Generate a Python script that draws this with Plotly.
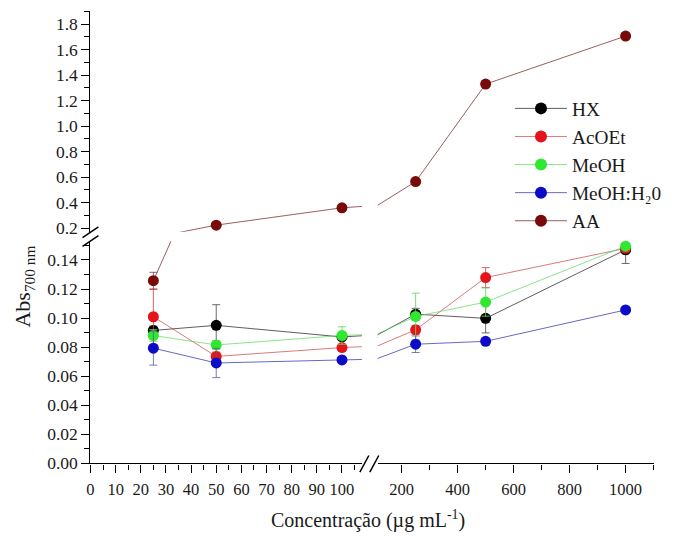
import plotly.graph_objects as go

# Concentrations (µg/mL) and absorbance at 700 nm for each extract
conc = [25, 50, 100, 250, 500, 1000]

hx = [0.0915, 0.0950, 0.0870, 0.1027, 0.0998, 0.1470]
hx_err = [0.003, 0.0142, 0.002, 0.004, 0.0100, 0.0094]

acoet = [0.1009, 0.0736, 0.0797, 0.0919, 0.1279, 0.1480]
acoet_err = [0.019, 0.003, 0.002, 0.003, 0.0068, 0.002]

meoh = [0.0880, 0.0815, 0.0880, 0.1011, 0.1110, 0.1495]
meoh_err = [0.004, 0.003, 0.0060, 0.0160, 0.0097, 0.002]

meoh_h2o = [0.0793, 0.0691, 0.0712, 0.0820, 0.0840, 0.1056]
meoh_h2o_err = [0.0117, 0.0101, 0.002, 0.0057, 0.002, 0.001]

aa = [0.1257, 0.223, 0.359, 0.565, 1.33, 1.707]
aa_err = [0.0058, 0.01, 0.01, 0.01, 0.02, 0.01]

series_names = ["HX", "AcOEt", "MeOH", "MeOH:H₂0", "AA"]
series_vals = [hx, acoet, meoh, meoh_h2o, aa]
series_errs = [hx_err, acoet_err, meoh_err, meoh_h2o_err, aa_err]
marker_colors = ["#000000", "#e3151b", "#2fe82f", "#0c0cc8", "#780a0a"]
line_colors = ["rgba(40,40,40,0.75)", "rgba(200,50,50,0.65)", "rgba(90,215,90,0.7)",
               "rgba(40,40,170,0.7)", "rgba(120,40,40,0.75)"]
err_colors = ["rgba(70,70,70,0.8)", "rgba(210,60,60,0.8)", "rgba(100,215,100,0.85)",
              "rgba(90,90,150,0.8)", "rgba(140,60,60,0.8)"]

# Broken axes: two x segments and two y segments
X_LEFT_MAX = 107.9
X_RIGHT = [114.7, 1100]
Y_LOW_MAX = 0.1527
Y_HIGH = [0.1715, 1.9]

W, H = 673, 547
def px(x):
    return x / W
def py(y):
    return 1 - y / H

FONT = "Liberation Serif"
TEXT = "#1a1a1a"

fig = go.Figure()

panels = [("x", "y"), ("x2", "y"), ("x", "y2"), ("x2", "y2")]

def home(xv, yv, xa, ya):
    in_x = (xv <= X_LEFT_MAX) if xa == "x" else (xv >= X_RIGHT[0])
    in_y = (yv <= Y_LOW_MAX) if ya == "y" else (yv >= Y_HIGH[0])
    return in_x and in_y

for i, name in enumerate(series_names):
    vals = series_vals[i]
    errs = series_errs[i]
    for xa, ya in panels:
        flags = [home(c, v, xa, ya) for c, v in zip(conc, vals)]
        sizes = [11 if f else 0 for f in flags]
        evals = [e if f else float("nan") for e, f in zip(errs, flags)]
        fig.add_trace(go.Scatter(
            x=conc, y=vals, xaxis=xa, yaxis=ya,
            mode="lines+markers",
            name=name, legendgroup=name, showlegend=False,
            line=dict(color=line_colors[i], width=1),
            marker=dict(size=sizes, color=marker_colors[i], opacity=1, line=dict(width=0)),
            error_y=dict(type="data", array=evals, visible=True,
                         color=err_colors[i], thickness=1, width=4),
            cliponaxis=False,
        ))
    # legend entry
    fig.add_trace(go.Scatter(
        x=[None], y=[None], mode="lines+markers",
        name=name, legendgroup=name, showlegend=True,
        line=dict(color=line_colors[i], width=1),
        marker=dict(size=12, color=marker_colors[i], opacity=1, line=dict(width=0)),
    ))

axis_common = dict(
    showline=True, linecolor="black", linewidth=1.4,
    ticks="outside", ticklen=8, tickwidth=1.3, tickcolor="black",
    showgrid=False, zeroline=False,
)
minor_common = dict(ticklen=5, tickwidth=1.2, tickcolor="black", ticks="outside", showgrid=False)
xfont = dict(family=FONT, size=16.5, color=TEXT)
yfont = dict(family=FONT, size=17.5, color=TEXT)

fig.update_layout(
    width=W, height=H,
    margin=dict(l=0, r=0, t=0, b=0),
    font=dict(family=FONT, size=16, color=TEXT),
    paper_bgcolor="white", plot_bgcolor="white",
    xaxis=dict(domain=[px(87), px(360)], range=[0, X_LEFT_MAX], anchor="y",
               tick0=0, dtick=10, minor=dict(dtick=5, **minor_common),
               tickfont=xfont, ticklabelstandoff=3, **axis_common),
    xaxis2=dict(domain=[px(376), px(653.5)], range=X_RIGHT, anchor="y",
                tick0=0, dtick=200, minor=dict(dtick=100, **minor_common),
                tickfont=xfont, ticklabelstandoff=3, **axis_common),
    yaxis=dict(domain=[py(472), py(246)], range=[0, Y_LOW_MAX], anchor="x",
               tick0=0, dtick=0.02, tickformat=".2f",
               minor=dict(dtick=0.01, **minor_common),
               tickfont=yfont, **axis_common),
    yaxis2=dict(domain=[py(236), py(11.7)], range=Y_HIGH, anchor="x",
                tick0=0.2, dtick=0.2, tickformat=".1f",
                minor=dict(dtick=0.1, **minor_common),
                tickfont=yfont, **axis_common),
    legend=dict(x=px(509), y=py(91), xanchor="left", yanchor="top",
                bgcolor="rgba(0,0,0,0)", itemsizing="trace", itemwidth=52,
                traceorder="grouped", tracegroupgap=0,
                font=dict(family=FONT, size=19.3, color=TEXT)),
    showlegend=True,
)

# Axis titles
fig.add_annotation(x=px(366), y=py(529), xref="paper", yref="paper",
                   text="Concentração (µg mL<sup>-1</sup>)", showarrow=False,
                   font=dict(family=FONT, size=20, color=TEXT),
                   xanchor="center", yanchor="middle")
fig.add_annotation(x=px(20), y=py(292), xref="paper", yref="paper",
                   text="Abs<sub>700 nm</sub>", showarrow=False, textangle=-90,
                   font=dict(family=FONT, size=22, color=TEXT),
                   xanchor="center", yanchor="middle")

# Axis break marks
def seg(x0, y0, x1, y1):
    fig.add_shape(type="line", xref="paper", yref="paper",
                  x0=px(x0), y0=py(y0), x1=px(x1), y1=py(y1),
                  line=dict(color="black", width=1.5))

seg(79, 242, 95, 231)
seg(79, 251, 95, 240)
seg(358, 481, 367, 464)
seg(368, 481, 377, 464)

fig.write_html("out.html")
